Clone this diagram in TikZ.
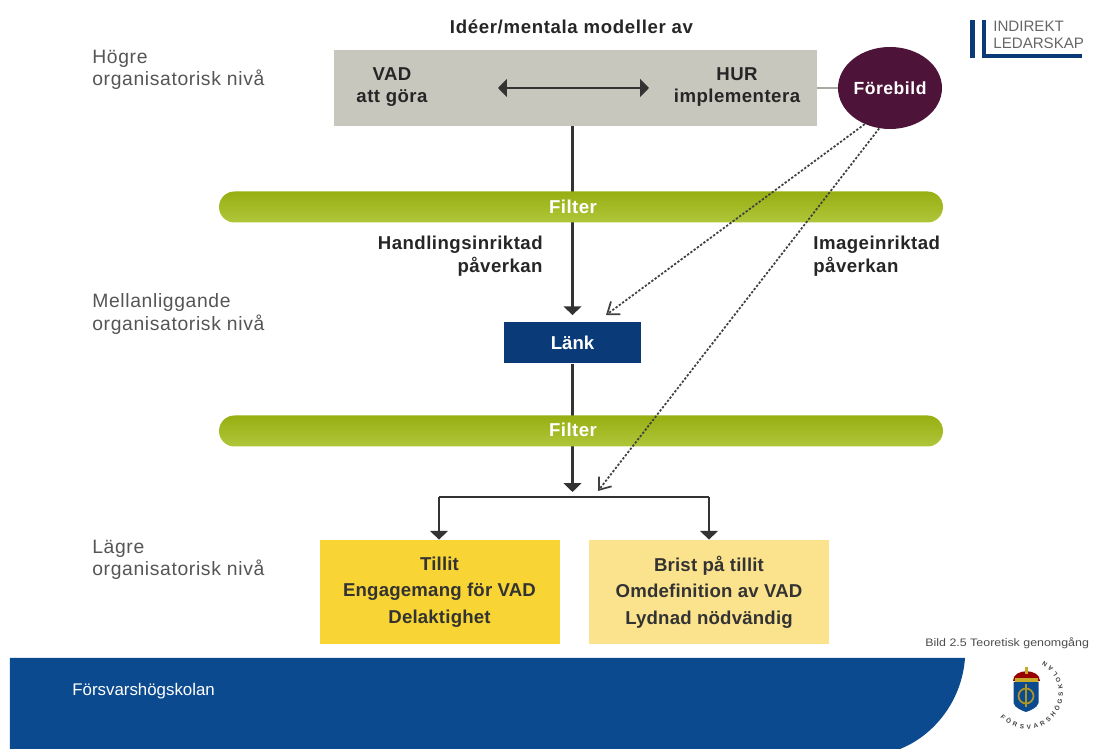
\documentclass[tikz,border=0pt]{standalone}
\usepackage{fontspec}
\setmainfont{Liberation Sans}
\usetikzlibrary{arrows.meta,shapes.geometric,decorations.text}
\definecolor{boxgray}{HTML}{C8C7BE}
\definecolor{plum}{HTML}{4E1338}
\definecolor{navy}{HTML}{0A3A78}
\definecolor{bandblue}{HTML}{0B4A8F}
\definecolor{barlight}{HTML}{B0C63A}
\definecolor{bardark}{HTML}{97AF12}
\definecolor{gold}{HTML}{F8D534}
\definecolor{paleyellow}{HTML}{FBE38E}
\definecolor{greytext}{HTML}{555555}
\tikzset{
   head/.style={font=\fontsize{10.6pt}{13pt}\selectfont\bfseries\addfontfeatures{LetterSpace=2.5}, text=black!85, align=center, inner sep=0pt},
   level/.style={font=\fontsize{11pt}{12.6pt}\selectfont\addfontfeatures{LetterSpace=3.3}, text=greytext, align=left, anchor=west, inner sep=0pt},
   bar/.style={minimum width=14.48cm, minimum height=0.62cm, rounded corners=0.31cm, top color=bardark, bottom color=barlight, inner sep=0pt},
   bartext/.style={text=white, font=\fontsize{10.6pt}{13pt}\selectfont\bfseries\addfontfeatures{LetterSpace=2.5}, inner sep=0pt},
   result/.style={minimum width=4.8cm, minimum height=2.08cm, align=center, inner sep=0pt, text=black!80, font=\fontsize{10.6pt}{15pt}\selectfont\bfseries\addfontfeatures{LetterSpace=1}},
   line/.style={draw=black!80, line width=1.2pt},
   arrow/.style={line, -{Triangle[width=10pt,length=5pt]}},
   dots/.style={draw=black!75, line width=1pt, dash pattern=on 1.3pt off 1pt, -{Straight Barb[width=9pt,length=6pt]}}
}
\begin{document}
\begin{tikzpicture}
   \useasboundingbox (0, 0) rectangle (21.9, 14.98);

   % top
   \node[head, font=\fontsize{10.6pt}{13pt}\selectfont\bfseries\addfontfeatures{LetterSpace=3.5}] (title) at (11.43, 14.44) {Idéer/mentala modeller av};
   \node[fill=boxgray, minimum width=9.66cm, minimum height=1.52cm, inner sep=0pt] (ideas) at (11.51, 13.22) {};
   \node[head] (vad) at (7.84, 13.24) {VAD\\att göra};
   \node[head] (hur) at (14.74, 13.24) {HUR\\implementera};
   \coordinate (arrowleft) at (9.96, 13.22);
   \coordinate (arrowright) at (12.98, 13.22);
   \draw[line, {Triangle[width=10pt,length=5pt]}-{Triangle[width=10pt,length=5pt]}] (arrowleft) -- (arrowright);

   \node[ellipse, fill=plum, text=white, minimum width=2.08cm, minimum height=1.64cm, inner sep=0pt, font=\fontsize{10pt}{11pt}\selectfont\bfseries\addfontfeatures{LetterSpace=3}] (forebild) at (17.8, 13.22) {Förebild};
   \draw[draw=boxgray!85!black, line width=1.6pt] (ideas.east) -- (forebild.west);

   % middle
   \node[fill=navy, text=white, minimum width=2.74cm, minimum height=0.82cm, inner sep=0pt, font=\fontsize{10.6pt}{13pt}\selectfont\bfseries] (lank) at (11.45, 8.12) {Länk};
   \coordinate (branchtop) at (11.45, 5.14);
   \coordinate (branchmid) at (11.45, 5.04);
   \coordinate (branchleft) at (8.78, 5.04);
   \coordinate (branchright) at (14.18, 5.04);
   \draw[arrow, shorten >=0.14cm] (ideas.south -| lank) -- (lank.north);
   \draw[arrow] (lank.south) -- (branchtop);

   \node[bar] (filterone) at (11.62, 10.84) {};
   \node[bar] (filtertwo) at (11.62, 6.36) {};
   \node[bartext] (filteronetext) at (11.46, 10.84) {Filter};
   \node[bartext] (filtertwotext) at (11.46, 6.38) {Filter};

   \node[head, align=right, anchor=east] (handling) at (10.86, 9.86) {Handlingsinriktad\\påverkan};
   \node[head, align=left, anchor=west] (image) at (16.26, 9.86) {Imageinriktad\\påverkan};

   % bottom
   \node[result, fill=gold] (trust) at (8.79, 3.14) {Tillit\\Engagemang för VAD\\Delaktighet};
   \node[result, fill=paleyellow] (distrust) at (14.18, 3.14) {Brist på tillit\\Omdefinition av VAD\\Lydnad nödvändig};
   \draw[line] (branchleft) -- (branchright);
   \draw[arrow] (branchleft) -- (trust.north -| branchleft);
   \draw[arrow] (branchright) -- (distrust.north -| branchright);

   \coordinate (dotsone) at (12.12, 8.68);
   \coordinate (dotstwo) at (11.96, 5.16);
   \draw[dots] (forebild.235) -- (dotsone);
   \draw[dots] (forebild.255) -- (dotstwo);

   % levels
   \node[level] (high) at (1.84, 13.58) {Högre\\organisatorisk nivå};
   \node[level] (mid) at (1.84, 8.7) {Mellanliggande\\organisatorisk nivå};
   \node[level] (low) at (1.84, 3.78) {Lägre\\organisatorisk nivå};

   % logo
   \fill[navy] (19.4, 13.82) rectangle (19.5, 14.58);
   \fill[navy] (19.64, 13.82) rectangle (19.72, 14.58);
   \fill[navy] (19.64, 13.82) rectangle (21.64, 13.9);
   \node[level, font=\fontsize{8.6pt}{9.6pt}\selectfont, text=black!60] (logotext) at (19.86, 14.28) {INDIREKT\\LEDARSKAP};

   % footer
   \fill[bandblue] (0.2, 0) -- (0.2, 1.82) -- (19.3, 1.82) .. controls (19.24, 0.98) and (18.7, 0.28) .. (18.0, 0) -- cycle;
   \node[level, text=white, font=\fontsize{9.6pt}{11pt}\selectfont] (school) at (1.44, 1.16) {Försvarshögskolan};
   \node[level, text=black!70, font=\fontsize{6.2pt}{8pt}\selectfont\addfontfeatures{FakeStretch=1.14}] (caption) at (18.5, 2.12) {Bild 2.5 Teoretisk genomgång};

   % crest
   \fill[bandblue] (20.27, 1.34) -- (20.27, 0.92) .. controls (20.29, 0.82) and (20.46, 0.76) .. (20.52, 0.74) .. controls (20.58, 0.76) and (20.75, 0.82) .. (20.77, 0.92) -- (20.77, 1.34) -- cycle;
   \fill[red!60!black] (20.25, 1.36) .. controls (20.25, 1.62) and (20.79, 1.62) .. (20.79, 1.36) -- cycle;
   \fill[gold!80!black] (20.29, 1.34) rectangle (20.75, 1.42);
   \fill[gold!80!black] (20.49, 1.5) rectangle (20.55, 1.64);
   \draw[gold!70!black, line width=1pt] (20.52, 1.06) circle (0.15);
   \draw[gold!70!black, line width=0.8pt] (20.52, 0.84) -- (20.52, 1.3);
   \path[decorate, decoration={text along path, text align=fit to path, text={|\fontsize{3.6pt}{4pt}\selectfont\bfseries\color{black!75}|FÖRSVARSHÖGSKOLAN}}]
      (20.005, 0.638) arc[start angle=-138, end angle=62, radius=0.72];
\end{tikzpicture}
\end{document}
